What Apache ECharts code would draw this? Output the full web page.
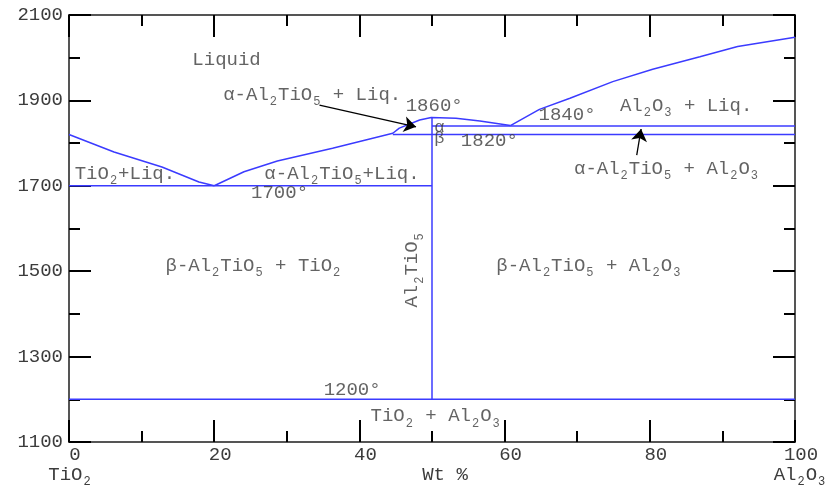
<!DOCTYPE html>
<html>
<head>
<meta charset="utf-8">
<script src="https://cdn.jsdelivr.net/npm/echarts@6/dist/echarts.min.js"></script>
<style>
  html, body { margin: 0; padding: 0; background: #fff; }
  #chart { width: 834px; height: 486px; }
</style>
</head>
<body>
<div id="chart"></div>
<script>
// phase boundaries, [wt% Al2O3, temperature]
const liquidusLeft = [[0, 1820], [6.2, 1779], [12.8, 1744], [17.9, 1709], [20, 1700]];
const liquidusMid = [[20, 1700], [24.1, 1733], [28.7, 1758], [36.3, 1788], [44.6, 1823], [45.5, 1835],
  [48.3, 1854], [49.9, 1860], [53.3, 1858], [56.6, 1852], [60.8, 1841]];
const liquidusRight = [[60.8, 1841], [64.8, 1879], [69, 1905], [74.9, 1944], [80.4, 1973],
  [86.9, 2002], [92.1, 2026], [100, 2048]];
const eutecticLeft = [[0, 1700], [50, 1700]];
const line1840 = [[50, 1840], [100, 1840]];
const line1820 = [[44.6, 1820], [100, 1820]];
const line1200 = [[0, 1200], [100, 1200]];
const compound = [[50, 1200], [50, 1860]];

// arrows [from, to]
const arrows = [
  [[34.5, 1889], [47.8, 1838]],
  [[78.2, 1772], [78.8, 1833]]
];

// region labels [x, y, text, rotate, fontSize]
const regionLabels = [
  [21.7, 1995, 'Liquid', 0],
  [33.5, 1913, 'α-Al{s|2}TiO{s|5} + Liq.', 0],
  [50.3, 1887, '1860°', 0],
  [51.0, 1836, 'α', 0, 17],
  [51.0, 1810, 'β', 0, 17],
  [57.9, 1805, '1820°', 0],
  [68.6, 1865, '1840°', 0],
  [85.0, 1887, 'Al{s|2}O{s|3} + Liq.', 0],
  [82.3, 1739, 'α-Al{s|2}TiO{s|5} + Al{s|2}O{s|3}', 0],
  [7.7, 1728, 'TiO{s|2}+Liq.', 0],
  [37.6, 1728, 'α-Al{s|2}TiO{s|5}+Liq.', 0],
  [29.0, 1684, '1700°', 0],
  [25.4, 1512, 'β-Al{s|2}TiO{s|5} + TiO{s|2}', 0],
  [47.3, 1503, 'Al{s|2}TiO{s|5}', 90],
  [71.6, 1512, 'β-Al{s|2}TiO{s|5} + Al{s|2}O{s|3}', 0],
  [39.0, 1222, '1200°', 0],
  [50.5, 1160, 'TiO{s|2} + Al{s|2}O{s|3}', 0]
];

const xTicks = { min: 0, max: 100, interval: 20 };
const yTicks = { min: 1100, max: 2100, interval: 200 };

const FONT = 'Liberation Mono';
const TXT = '#3c3c3c';
const BLUE = '#3b3bff';
const TICK = 'black';
const rich = { s: { fontFamily: FONT, fontSize: 12, lineHeight: 13, padding: [14, 1, 0, 1], color: TXT } };

function axisCommon(showLabel) {
  return {
    axisLine: { show: true, onZero: false, lineStyle: { color: '#555', width: 2 } },
    axisTick: { show: true, inside: true, length: 22, lineStyle: { color: TICK, width: 2 } },
    minorTick: { show: true, splitNumber: 2, length: 11, lineStyle: { color: TICK, width: 2 } },
    splitLine: { show: false },
    axisLabel: { show: showLabel, color: TXT, fontFamily: FONT, fontSize: 19, formatter: v => String(v) }
  };
}

function boundary(data) {
  return {
    type: 'line', data: data, showSymbol: false, silent: true,
    lineStyle: { color: BLUE, width: 1.5 }, z: 3
  };
}

const chart = echarts.init(document.getElementById('chart'));
const bottomX = axisCommon(true);
bottomX.axisLabel.padding = [0, 0, 0, 12];
bottomX.axisLabel.margin = 3;
const leftY = axisCommon(true);
leftY.axisLabel.margin = 6;

chart.setOption({
  animation: false,
  backgroundColor: '#fff',
  grid: { left: 69, right: 39, top: 15, bottom: 44 },
  xAxis: [
    Object.assign({ type: 'value', position: 'bottom' }, xTicks, bottomX),
    Object.assign({ type: 'value', position: 'top' }, xTicks, axisCommon(false))
  ],
  yAxis: [
    Object.assign({ type: 'value', position: 'left' }, yTicks, leftY),
    Object.assign({ type: 'value', position: 'right' }, yTicks, axisCommon(false))
  ],
  series: [
    boundary(liquidusLeft),
    boundary(liquidusMid),
    boundary(liquidusRight),
    boundary(eutecticLeft),
    boundary(line1840),
    boundary(line1820),
    boundary(line1200),
    boundary(compound),
    {
      type: 'lines', coordinateSystem: 'cartesian2d', silent: true, z: 4,
      symbol: ['none', 'arrow'], symbolSize: 12,
      lineStyle: { color: '#000', width: 1.3, opacity: 1 },
      data: arrows.map(a => ({ coords: a }))
    },
    {
      type: 'scatter', symbolSize: 0, silent: true, z: 5,
      data: regionLabels.map(d => ({
        value: [d[0], d[1]],
        label: {
          show: true, position: 'inside', formatter: d[2], rotate: d[3],
          color: TXT, fontFamily: FONT, fontSize: d[4] || 19, lineHeight: d[4] || 19, rich: rich
        }
      }))
    }
  ],
  graphic: [
    { type: 'text', x: 70, y: 475, style: { text: 'TiO{s|2}', rich: rich, fill: TXT, font: '19px ' + FONT, align: 'center', verticalAlign: 'middle' } },
    { type: 'text', x: 445, y: 475, style: { text: 'Wt %', fill: TXT, font: '19px ' + FONT, align: 'center', verticalAlign: 'middle' } },
    { type: 'text', x: 800, y: 475, style: { text: 'Al{s|2}O{s|3}', rich: rich, fill: TXT, font: '19px ' + FONT, align: 'center', verticalAlign: 'middle' } }
  ]
});
</script>
</body>
</html>
